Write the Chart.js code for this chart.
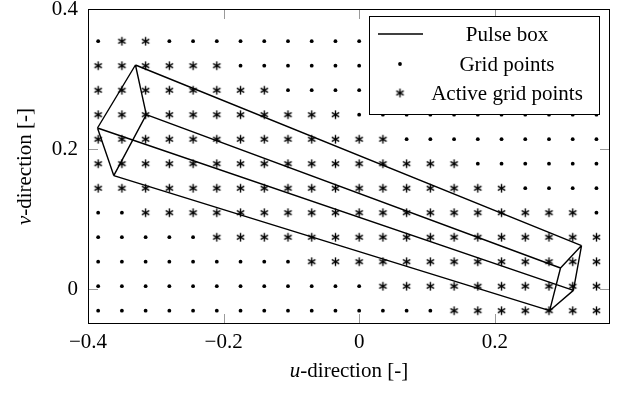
<!DOCTYPE html>
<html>
<head>
<meta charset="utf-8">
<script src="https://cdn.jsdelivr.net/npm/chart.js@4.4.1/dist/chart.umd.min.js"></script>
<style>
    html, body { margin: 0; padding: 0; background: #fff; }
    #wrap { width: 620px; height: 396px; }
</style>
</head>
<body>
<div id="wrap"><canvas id="gridChart" width="620" height="396"></canvas></div>
<script>
// grid columns (u) and rows (v, top to bottom)
const uGrid = [-0.385, -0.35, -0.315, -0.28, -0.245, -0.21, -0.175, -0.14, -0.105, -0.07, -0.035,
    0, 0.035, 0.07, 0.105, 0.14, 0.175, 0.21, 0.245, 0.28, 0.315, 0.35];
const vGrid = [0.354, 0.319, 0.284, 0.249, 0.214, 0.179, 0.144, 0.109, 0.074, 0.039, 0.004, -0.031];

// first / last active column for each row
const activeFirst = [1, 0, 0, 0, 0, 0, 0, 2, 5, 9, 12, 15];
const activeLast = [2, 5, 7, 10, 12, 15, 17, 20, 21, 21, 21, 21];

// pulse box corners: near face A B C D, far face E F G H
const boxU = [-0.330, -0.314, -0.386, -0.362, 0.328, 0.297, 0.316, 0.281];
const boxV = [0.320, 0.249, 0.230, 0.162, 0.062, 0.030, -0.002, -0.031];
const boxEdges = [[0, 1], [0, 2], [1, 3], [2, 3], [4, 5], [4, 6], [5, 7], [6, 7], [0, 4], [1, 5], [2, 6], [3, 7]];

const xTicks = [-0.4, -0.2, 0, 0.2];
const yTicks = [0, 0.2, 0.4];

const FONT = "'Liberation Serif', 'Times New Roman', serif";

// split grid into plain and active points
const gridPoints = [];
const activePoints = [];
vGrid.forEach((v, row) => {
    uGrid.forEach((u, col) => {
        const pt = { x: u, y: v };
        if (col >= activeFirst[row] && col <= activeLast[row]) activePoints.push(pt);
        else gridPoints.push(pt);
    });
});

// box wireframe as one path with gaps
const boxPath = [];
boxEdges.forEach(([a, b]) => {
    boxPath.push({ x: boxU[a], y: boxV[a] }, { x: boxU[b], y: boxV[b] }, { x: null, y: null });
});

// six-armed asterisk marker
const makeAsterisk = r => {
    const c = document.createElement('canvas');
    const size = Math.ceil(r * 2 + 2);
    c.width = c.height = size;
    const g = c.getContext('2d');
    g.strokeStyle = '#000';
    g.lineWidth = 1.4;
    const m = size / 2;
    [90, 30, 150].forEach(deg => {
        const a = deg * Math.PI / 180;
        g.beginPath();
        g.moveTo(m - r * Math.cos(a), m + r * Math.sin(a));
        g.lineTo(m + r * Math.cos(a), m - r * Math.sin(a));
        g.stroke();
    });
    return c;
};
const asterisk = makeAsterisk(4.3);

const fmt = v => {
    const r = Math.round(v * 10) / 10;
    return (r < 0 ? '\u2212' : '') + Math.abs(r);
};

// mixed italic / upright text
const drawLabel = (ctx, parts, x, y) => {
    let total = 0;
    parts.forEach(p => {
        ctx.font = (p.italic ? 'italic ' : '') + '21px ' + FONT;
        p.w = ctx.measureText(p.t).width;
        total += p.w;
    });
    let cx = x - total / 2;
    parts.forEach(p => {
        ctx.font = (p.italic ? 'italic ' : '') + '21px ' + FONT;
        ctx.fillText(p.t, cx, y);
        cx += p.w;
    });
};

const decorPlugin = {
    id: 'decor',
    afterDatasetsDraw(chart) {
        const { ctx, chartArea: a, scales: { x, y } } = chart;
        ctx.save();

        // inward ticks
        ctx.strokeStyle = '#9a9a9a';
        ctx.lineWidth = 1;
        const tl = 10;
        xTicks.forEach(v => {
            const px = Math.round(x.getPixelForValue(v)) + 0.5;
            ctx.beginPath();
            ctx.moveTo(px, a.bottom); ctx.lineTo(px, a.bottom - tl);
            ctx.moveTo(px, a.top); ctx.lineTo(px, a.top + tl);
            ctx.stroke();
        });
        yTicks.forEach(v => {
            const py = Math.round(y.getPixelForValue(v)) + 0.5;
            ctx.beginPath();
            ctx.moveTo(a.left, py); ctx.lineTo(a.left + tl, py);
            ctx.moveTo(a.right, py); ctx.lineTo(a.right - tl, py);
            ctx.stroke();
        });

        // legend box
        const lx = 369.5, ly = 16.5, lw = 230, lh = 98;
        ctx.fillStyle = '#fff';
        ctx.fillRect(lx, ly, lw, lh);
        ctx.strokeStyle = '#000';
        ctx.strokeRect(lx, ly, lw, lh);

        const rows = [34, 64, 93];
        const textX = 507;
        ctx.fillStyle = '#000';
        ctx.textAlign = 'center';
        ctx.textBaseline = 'middle';
        ctx.font = '21px ' + FONT;

        ctx.lineWidth = 1.4;
        ctx.beginPath();
        ctx.moveTo(378, rows[0]); ctx.lineTo(423, rows[0]);
        ctx.stroke();
        ctx.fillText('Pulse box', textX, rows[0] + 1);

        ctx.beginPath();
        ctx.arc(400, rows[1], 1.9, 0, Math.PI * 2);
        ctx.fill();
        ctx.fillText('Grid points', textX, rows[1] + 1);

        ctx.drawImage(asterisk, 400 - asterisk.width / 2, rows[2] - asterisk.height / 2);
        ctx.fillText('Active grid points', textX, rows[2] + 1);

        // frame
        ctx.strokeStyle = '#000';
        ctx.lineWidth = 1;
        ctx.strokeRect(a.left + 0.5, a.top + 0.5, a.right - a.left - 1, a.bottom - a.top - 1);

        ctx.restore();
    },
    afterDraw(chart) {
        const { ctx, chartArea: a } = chart;
        ctx.save();
        ctx.fillStyle = '#000';
        ctx.textAlign = 'left';
        ctx.textBaseline = 'middle';
        drawLabel(ctx, [{ t: 'u', italic: true }, { t: '-direction [-]' }], (a.left + a.right) / 2, 371);
        ctx.translate(25, (a.top + a.bottom) / 2);
        ctx.rotate(-Math.PI / 2);
        drawLabel(ctx, [{ t: 'v', italic: true }, { t: '-direction [-]' }], 0, 0);
        ctx.restore();
    }
};

const ctx = document.getElementById('gridChart').getContext('2d');
new Chart(ctx, {
    type: 'scatter',
    data: {
        datasets: [
            {
                label: 'Pulse box',
                data: boxPath,
                showLine: true,
                spanGaps: false,
                borderColor: '#000',
                borderWidth: 1.4,
                pointRadius: 0,
                fill: false
            },
            {
                label: 'Grid points',
                data: gridPoints,
                pointStyle: 'circle',
                pointRadius: 1.9,
                backgroundColor: '#000',
                borderWidth: 0
            },
            {
                label: 'Active grid points',
                data: activePoints,
                pointStyle: asterisk,
                pointRadius: 4
            }
        ]
    },
    options: {
        responsive: false,
        animation: false,
        events: [],
        layout: { padding: { top: 9, right: 10, left: 0, bottom: 0 } },
        plugins: {
            legend: { display: false },
            tooltip: { enabled: false }
        },
        scales: {
            x: {
                type: 'linear',
                min: -0.4,
                max: 0.37,
                grid: { display: false, drawTicks: false },
                border: { display: false },
                afterBuildTicks: s => { s.ticks = xTicks.map(v => ({ value: v })); },
                afterFit: s => { s.height = 72; s.paddingLeft = 0; s.paddingRight = 0; },
                ticks: {
                    color: '#000',
                    padding: 6,
                    maxRotation: 0,
                    font: { family: FONT, size: 21 },
                    callback: v => fmt(v)
                }
            },
            y: {
                type: 'linear',
                min: -0.05,
                max: 0.4,
                grid: { display: false, drawTicks: false },
                border: { display: false },
                afterBuildTicks: s => { s.ticks = yTicks.map(v => ({ value: v })); },
                afterFit: s => { s.width = 88; s.paddingTop = 0; s.paddingBottom = 0; },
                ticks: {
                    color: '#000',
                    padding: 10,
                    font: { family: FONT, size: 21 },
                    callback: v => fmt(v)
                }
            }
        }
    },
    plugins: [decorPlugin]
});
</script>
</body>
</html>
